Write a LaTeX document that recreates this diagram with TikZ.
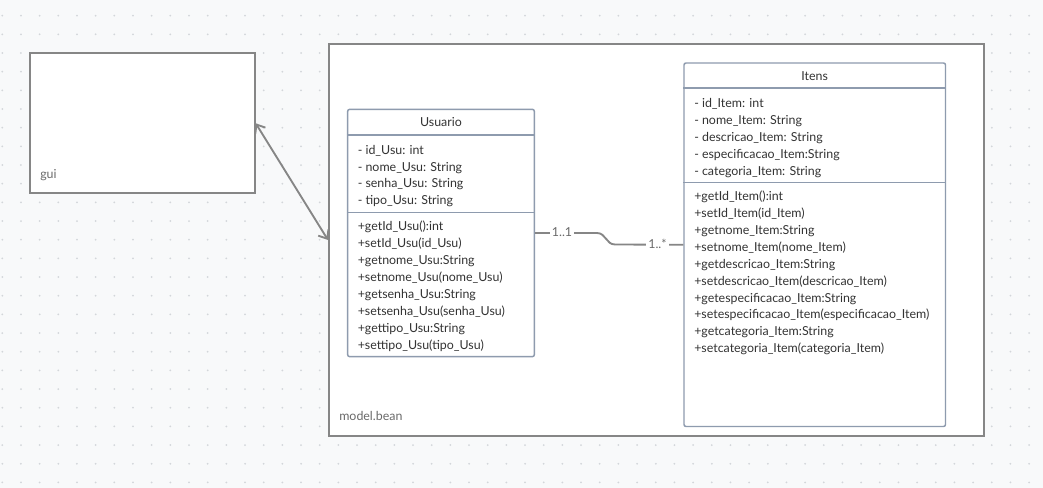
\documentclass[tikz,border=0pt]{standalone}
\usepackage{fontspec}
\setmainfont{Lato}
\usetikzlibrary{arrows.meta,fit}

\definecolor{canvas}{HTML}{F8F9FA}
\definecolor{griddot}{HTML}{D3D6DA}
\definecolor{pkgline}{HTML}{868686}
\definecolor{classline}{HTML}{8E9BAE}
\definecolor{txt}{HTML}{333333}
\definecolor{lbl}{HTML}{6A6A6A}

\newcommand\umlfont{\fontsize{9.3}{10}\selectfont}

\tikzset{
  pkg/.style={draw=pkgline, line width=1.5pt, fill=white, inner sep=0pt},
  classbox/.style={draw=classline, line width=1.1pt, fill=white, rounded corners=1.5pt, inner sep=0pt},
  divider/.style={draw=classline, line width=1.1pt},
  member/.style={anchor=base west, inner sep=0pt, text=txt, font=\umlfont},
  ctitle/.style={anchor=base, inner sep=0pt, text=txt, font=\umlfont},
  pkglabel/.style={anchor=base west, inner sep=0pt, text=lbl, font=\umlfont},
  mult/.style={fill=white, inner sep=1.5pt, text=lbl, font=\umlfont},
  link/.style={draw=pkgline, line width=1.4pt},
  barbs/.style={link, {Straight Barb[length=5.5pt,width=9pt]}-{Straight Barb[length=5.5pt,width=9pt]}},
}

\begin{document}
\begin{tikzpicture}[x=0.75pt, y=-0.75pt]
  % canvas with dotted grid
  \useasboundingbox (0,0) rectangle (1043,488);
  \fill[canvas] (0,0) rectangle (1043,488);
  \foreach \i in {0,...,55}
    \foreach \j in {1,...,26}
      \fill[griddot] ({2.3+18.67*\i},{-3+18.67*\j}) circle (0.75pt);

  % packages
  \node[pkg, fit={(30,53.3) (254.7,193.3)}] (gui) {};
  \node[pkglabel] (guilabel) at (40,179) {gui};

  \node[pkg, fit={(329,44) (984,436)}] (bean) {};
  \node[pkglabel] (beanlabel) at (339,421) {model.bean};

  % class Usuario
  \node[classbox, fit={(347.7,109.3) (534.3,356.7)}] (usu) {};
  \node[ctitle] (usutitle) at (441,126.7) {Usuario};
  \draw[divider] (usu.west |- 0,135) -- (usu.east |- 0,135);
  \draw[divider] (usu.west |- 0,212.3) -- (usu.east |- 0,212.3);
  \foreach \t [count=\k from 0] in {- id\_Usu: int, - nome\_Usu: String,
      - senha\_Usu: String, - tipo\_Usu: String}
    \node[member] (usua\k) at (357.5,{154.3+16.8*\k}) {\t};
  \foreach \t [count=\k from 0] in {+getId\_Usu():int, +setId\_Usu(id\_Usu),
      +getnome\_Usu:String, +setnome\_Usu(nome\_Usu), +getsenha\_Usu:String,
      +setsenha\_Usu(senha\_Usu), +gettipo\_Usu:String, +settipo\_Usu(tipo\_Usu)}
    \node[member] (usum\k) at (357.5,{231+16.9*\k}) {\t};

  % class Itens
  \node[classbox, fit={(684,63) (945.5,426.5)}] (itens) {};
  \node[ctitle] (itenstitle) at (814.7,81) {Itens};
  \draw[divider] (itens.west |- 0,88) -- (itens.east |- 0,88);
  \draw[divider] (itens.west |- 0,182.5) -- (itens.east |- 0,182.5);
  \foreach \t [count=\k from 0] in {- id\_Item: int, - nome\_Item: String,
      - descricao\_Item: String, - especificacao\_Item:String, - categoria\_Item: String}
    \node[member] (itensa\k) at (694,{107.5+17*\k}) {\t};
  \foreach \t [count=\k from 0] in {+getId\_Item():int, +setId\_Item(id\_Item),
      +getnome\_Item:String, +setnome\_Item(nome\_Item), +getdescricao\_Item:String,
      +setdescricao\_Item(descricao\_Item), +getespecificacao\_Item:String,
      +setespecificacao\_Item(especificacao\_Item), +getcategoria\_Item:String,
      +setcategoria\_Item(categoria\_Item)}
    \node[member] (itensm\k) at (694,{200.7+16.9*\k}) {\t};

  % association Usuario -- Itens
  \coordinate (bendA) at (597,233);
  \coordinate (bendB) at (615,244.5);
  \draw[link] (usu.east) -- (bendA)
    .. controls (606,233) and (606,244.5) .. (bendB) -- (itens.west);
  \node[mult] (multusu) at (562,232.5) {1..1};
  \node[mult] (multitens) at (657.5,244) {1..*};

  % dependency gui <-> model.bean
  \draw[barbs] (gui.east) -- (bean.west);
\end{tikzpicture}
\end{document}
